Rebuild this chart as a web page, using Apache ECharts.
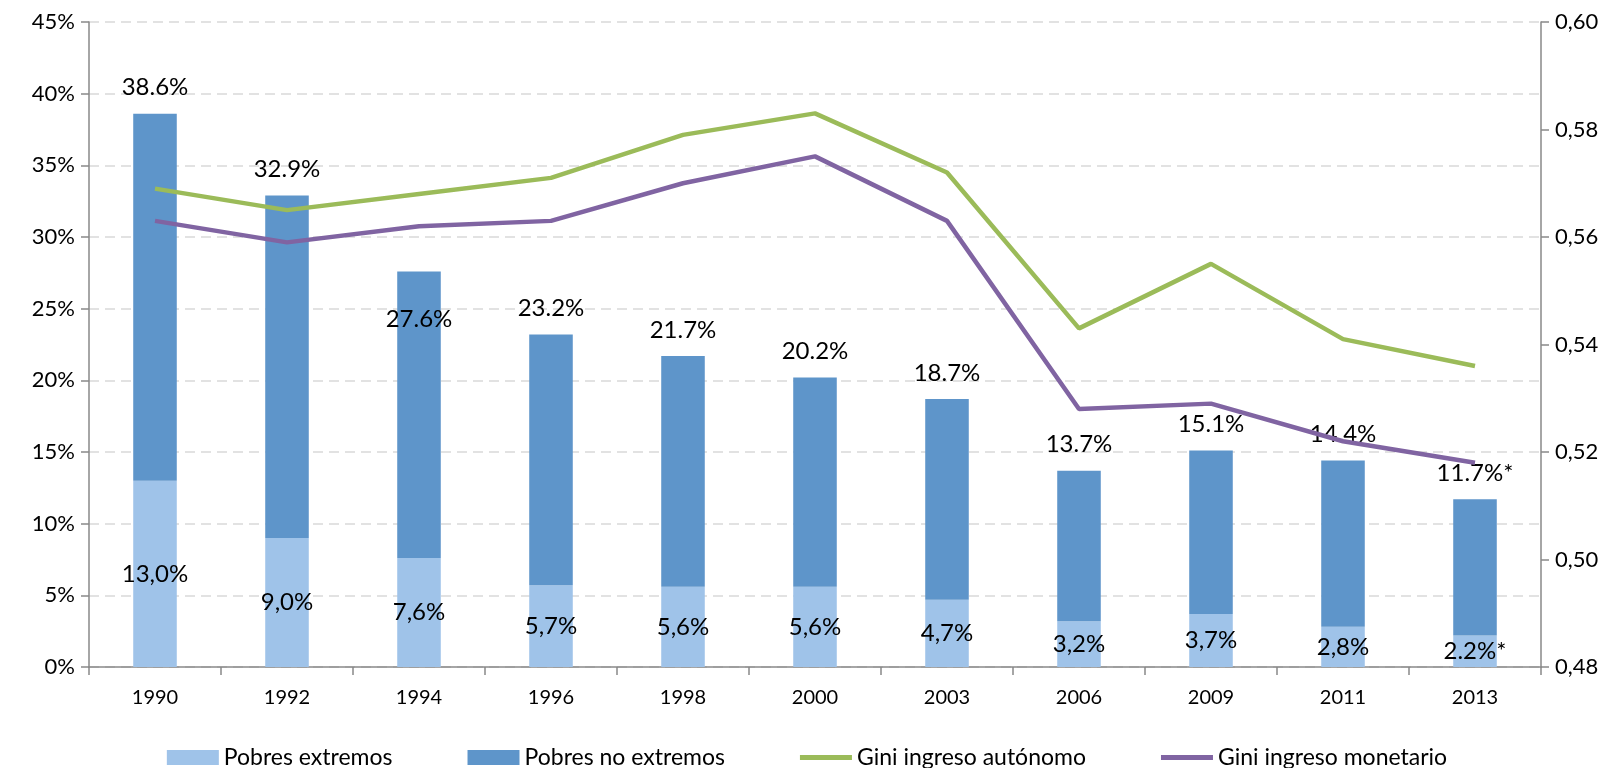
<!DOCTYPE html>
<html>
<head>
<meta charset="utf-8">
<script src="https://cdn.jsdelivr.net/npm/echarts@6/dist/echarts.min.js"></script>
<style>
  html, body {margin: 0; padding: 0; background: #fff;}
  #chart {width: 1614px; height: 768px;}
</style>
</head>
<body>
<div id="chart"></div>
<script>
// datos
const years = ['1990', '1992', '1994', '1996', '1998', '2000', '2003', '2006', '2009', '2011', '2013']
const pobresExtremos = [13.0, 9.0, 7.6, 5.7, 5.6, 5.6, 4.7, 3.2, 3.7, 2.8, 2.2]
const pobresNoExtremos = [25.6, 23.9, 20.0, 17.5, 16.1, 14.6, 14.0, 10.5, 11.4, 11.6, 9.5]
const pobrezaTotalLabels = ['38.6%', '32.9%', '27.6%', '23.2%', '21.7%', '20.2%', '18.7%', '13.7%', '15.1%', '14.4%', '11.7%*']
const extremosLabels = ['13,0%', '9,0%', '7,6%', '5,7%', '5,6%', '5,6%', '4,7%', '3,2%', '3,7%', '2,8%', '2.2%*']
const giniAutonomo = [0.569, 0.565, 0.568, 0.571, 0.579, 0.583, 0.572, 0.543, 0.555, 0.541, 0.536]
const giniMonetario = [0.563, 0.559, 0.562, 0.563, 0.570, 0.575, 0.563, 0.528, 0.529, 0.522, 0.518]

const font = 'Lato'
const txt = '#000'
const axisColor = '#898989'
const lineIcon = 'path://M0,0H50V5H0Z'

let myChart = echarts.init(document.getElementById('chart'))

let option = {
  animation: false,
  textStyle: {fontFamily: font},
  grid: {left: 89, right: 73, top: 22, bottom: 101},
  legend: {
    top: 741,
    left: 'center',
    itemWidth: 52,
    itemHeight: 15,
    itemGap: 75,
    textStyle: {fontFamily: font, fontSize: 23, color: txt},
    data: [
      {name: 'Pobres extremos', icon: 'rect'},
      {name: 'Pobres no extremos', icon: 'rect'},
      {name: 'Gini ingreso autónomo', icon: lineIcon},
      {name: 'Gini ingreso monetario', icon: lineIcon}
    ]
  },
  xAxis: {
    type: 'category',
    data: years,
    axisLine: {lineStyle: {color: axisColor, width: 1.5}},
    axisTick: {show: true, length: 8, lineStyle: {color: axisColor, width: 1.5}},
    axisLabel: {fontFamily: font, fontSize: 20, color: txt, margin: 21}
  },
  yAxis: [
    {
      type: 'value',
      min: 0, max: 45, interval: 5,
      axisLine: {show: true, lineStyle: {color: axisColor, width: 1.5}},
      axisTick: {show: true, length: 8, lineStyle: {color: axisColor, width: 1.5}},
      axisLabel: {fontFamily: font, fontSize: 22, color: txt, margin: 14, formatter: '{value}%'},
      splitLine: {show: true, lineStyle: {color: '#d9d9d9', type: [10, 6], width: 1.5}}
    },
    {
      type: 'value',
      min: 0.48, max: 0.60, interval: 0.02,
      position: 'right',
      axisLine: {show: true, lineStyle: {color: axisColor, width: 1.5}},
      axisTick: {show: true, length: 8, lineStyle: {color: axisColor, width: 1.5}},
      axisLabel: {
        fontFamily: font, fontSize: 22, color: txt, margin: 14,
        formatter: v => v.toFixed(2).replace('.', ',')
      },
      splitLine: {show: false}
    }
  ],
  series: [
    {
      name: 'Pobres extremos',
      type: 'bar',
      stack: 'pobreza',
      barWidth: '33%',
      itemStyle: {color: '#9fc3e9'},
      label: {
        show: true, position: 'inside',
        fontFamily: font, fontSize: 24, color: txt,
        formatter: p => extremosLabels[p.dataIndex]
      },
      data: pobresExtremos
    },
    {
      name: 'Pobres no extremos',
      type: 'bar',
      stack: 'pobreza',
      itemStyle: {color: '#5e95ca'},
      label: {
        show: true, position: 'top', distance: 14,
        fontFamily: font, fontSize: 24, color: txt,
        formatter: p => pobrezaTotalLabels[p.dataIndex]
      },
      data: pobresNoExtremos.map((v, i) => {
        // 1994 la etiqueta va dentro de la barra
        if (years[i] == '1994') return {value: v, label: {position: 'insideTop', distance: 36}}
        return v
      })
    },
    {
      name: 'Gini ingreso autónomo',
      type: 'line',
      yAxisIndex: 1,
      symbol: 'none',
      lineStyle: {color: '#9bbb59', width: 4.5},
      itemStyle: {color: '#9bbb59'},
      data: giniAutonomo
    },
    {
      name: 'Gini ingreso monetario',
      type: 'line',
      yAxisIndex: 1,
      symbol: 'none',
      lineStyle: {color: '#8064a2', width: 4.5},
      itemStyle: {color: '#8064a2'},
      data: giniMonetario
    }
  ]
}

myChart.setOption(option)
window.onresize = myChart.resize
</script>
</body>
</html>
